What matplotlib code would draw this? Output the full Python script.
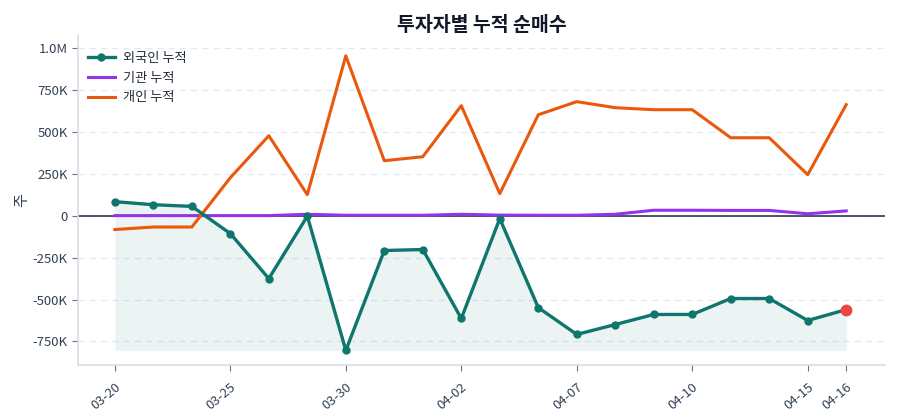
import numpy as np
import matplotlib
matplotlib.use("Agg")
import matplotlib.pyplot as plt
from matplotlib.ticker import FuncFormatter

plt.rcParams['font.family'] = ['Noto Sans CJK KR', 'DejaVu Sans']

# trading days (2026)
dates = ['03-20', '03-23', '03-24', '03-25', '03-26', '03-27', '03-30', '03-31',
         '04-01', '04-02', '04-03', '04-06', '04-07', '04-08', '04-09', '04-10',
         '04-13', '04-14', '04-15', '04-16']

# cumulative net buying (shares)
foreign_cum = [83000, 65000, 55000, -107000, -375000, -3000, -803000, -208000,
               -202000, -613000, -18000, -548000, -708000, -649000, -589000,
               -589000, -494000, -494000, -625000, -560000]
inst_cum = [0, 0, 0, 0, 0, 8000, 2000, 2000, 2000, 8000, 3000, 2000, 2000,
            8000, 32000, 32000, 31000, 31000, 11000, 28000]
indiv_cum = [-83000, -68000, -68000, 226000, 476000, 125000, 952000, 327000,
             351000, 655000, 131000, 601000, 679000, 643000, 631000, 631000,
             464000, 464000, 244000, 661000]

tick_idx = [0, 3, 6, 9, 12, 15, 18, 19]

C_FOREIGN = '#0f766e'
C_INST = '#9333ea'
C_INDIV = '#ea580c'
C_TEXT = '#334155'


def fmt_shares(v, pos):
    if v == 0:
        return '0'
    if abs(v) >= 1e6:
        return f'{v / 1e6:.1f}M'
    return f'{v / 1e3:.0f}K'


fig = plt.figure(figsize=(9, 4.2), dpi=100)
ax = fig.add_axes([0.087, 0.131, 0.896, 0.786])

x = np.arange(len(dates))
foreign = np.array(foreign_cum)

ax.fill_between(x, foreign, foreign.min(), color=C_FOREIGN, alpha=0.08, linewidth=0)
ax.axhline(0, color='#1e293b', linewidth=1.1, zorder=2)

ax.plot(x, foreign, color=C_FOREIGN, linewidth=2.4, marker='o', markersize=5,
        label='외국인 누적', zorder=4)
ax.plot(x, inst_cum, color=C_INST, linewidth=2.2, label='기관 누적', zorder=3)
ax.plot(x, indiv_cum, color=C_INDIV, linewidth=2.2, label='개인 누적', zorder=3)
# highlight latest point
ax.plot(x[-1], foreign[-1], 'o', color='#ef4444', markersize=7.5, zorder=5)

ax.set_xlim(-0.95, 20.0)
ax.set_ylim(-890000, 1077000)
ax.set_yticks([-750000, -500000, -250000, 0, 250000, 500000, 750000, 1000000])
ax.yaxis.set_major_formatter(FuncFormatter(fmt_shares))
ax.set_xticks(tick_idx)
ax.set_xticklabels([dates[i] for i in tick_idx], rotation=40, ha='right',
                   rotation_mode='anchor')

ax.grid(axis='y', linestyle=(0, (5, 4)), color='#e2e8f0', linewidth=0.9)
ax.set_axisbelow(True)
for s in ['top', 'right']:
    ax.spines[s].set_visible(False)
for s in ['left', 'bottom']:
    ax.spines[s].set_color('#d9dee5')
    ax.spines[s].set_linewidth(1.2)
ax.tick_params(colors=C_TEXT, labelsize=9.5, length=4)
ax.tick_params(axis='both', color='#64748b')
ax.tick_params(axis='x', pad=7)

ax.set_ylabel('주', color=C_TEXT, fontsize=11, labelpad=2)
ax.set_title('투자자별 누적 순매수', fontsize=14, fontweight='bold', color='#111827', pad=3)

leg = ax.legend(loc='upper left', bbox_to_anchor=(-0.009, 1.0), frameon=False,
                fontsize=9.5, handlelength=2.0, handletextpad=0.6,
                borderaxespad=0.9, labelspacing=0.5)
for t in leg.get_texts():
    t.set_color('#1f2937')

fig.savefig('out.png', dpi=100)
